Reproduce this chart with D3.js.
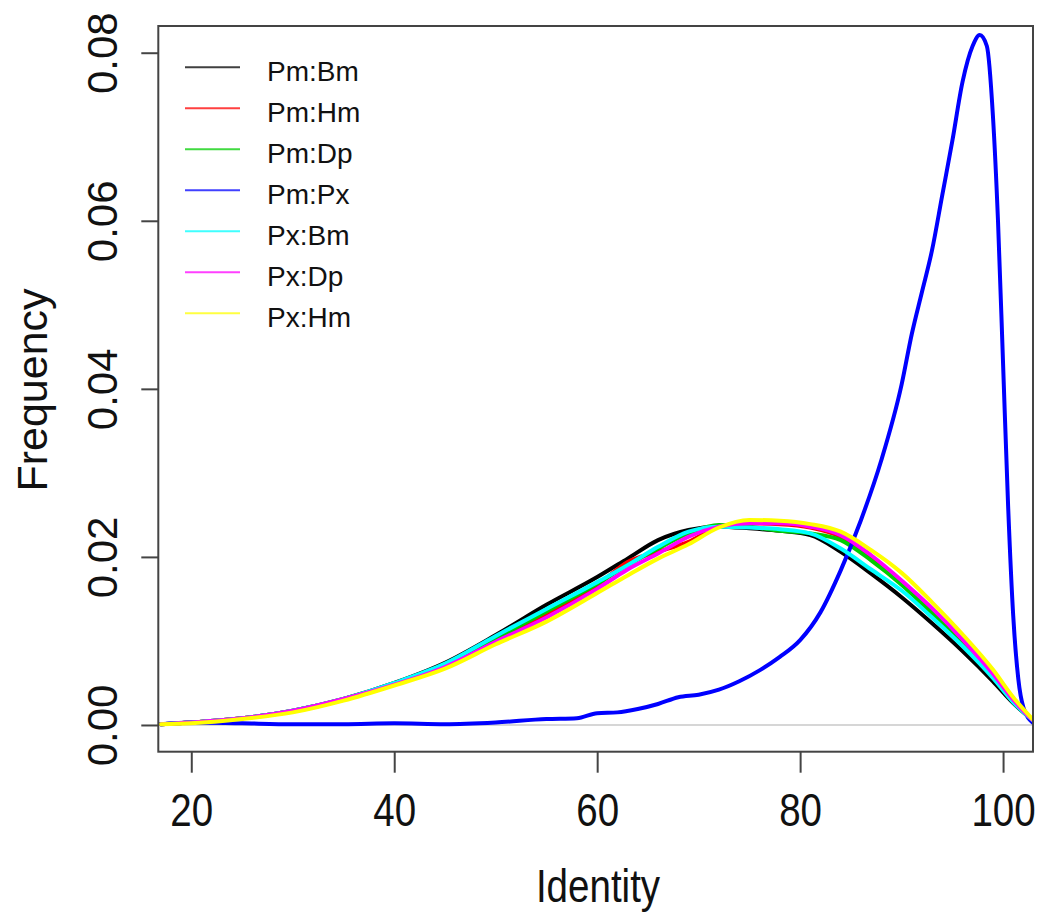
<!DOCTYPE html>
<html>
<head>
<meta charset="utf-8">
<script src="https://cdn.jsdelivr.net/npm/d3@7"></script>
<style>
  html, body { margin: 0; padding: 0; background: #fff; }
  text { font-family: "Liberation Sans", Arial, sans-serif; fill: #111; }
</style>
</head>
<body>
<svg id="chart" width="1039" height="918"></svg>
<script>
// ---------- data ----------
const seriesNames = ["Pm:Bm", "Pm:Hm", "Pm:Dp", "Pm:Px", "Px:Bm", "Px:Dp", "Px:Hm"];
const seriesColors = ["#000000", "#ff0000", "#00cd00", "#0000ff", "#00ffff", "#ff00ff", "#ffff00"];

const identityGrid = [17, 20, 25, 30, 35, 40, 45, 50, 55, 60, 63, 66, 69, 72, 75, 78, 81, 84, 87, 90, 93, 96, 99, 101, 102.9];
const pmBm = [0.0001, 0.0003, 0.0008, 0.0017, 0.0031, 0.0050, 0.0074, 0.0107, 0.0143, 0.0176, 0.0198, 0.0220, 0.0232, 0.0236, 0.0234, 0.0231, 0.0226, 0.0206, 0.0180, 0.0152, 0.0121, 0.0088, 0.0052, 0.0026, 0.0006];
const pmHm = [0.0001, 0.0003, 0.0008, 0.0016, 0.0030, 0.0048, 0.0070, 0.0100, 0.0131, 0.0166, 0.0194, 0.0206, 0.0218, 0.0236, 0.0240, 0.0239, 0.0235, 0.0224, 0.0200, 0.0170, 0.0137, 0.0100, 0.0060, 0.0029, 0.0006];
const pmDp = [0.0001, 0.0003, 0.0008, 0.0017, 0.0031, 0.0049, 0.0072, 0.0103, 0.0135, 0.0168, 0.0190, 0.0210, 0.0228, 0.0238, 0.0236, 0.0231, 0.0228, 0.0220, 0.0196, 0.0167, 0.0133, 0.0097, 0.0058, 0.0028, 0.0006];
const pxBm = [0.0001, 0.0003, 0.0008, 0.0017, 0.0031, 0.0050, 0.0073, 0.0106, 0.0138, 0.0170, 0.0190, 0.0212, 0.0230, 0.0236, 0.0235, 0.0233, 0.0228, 0.0210, 0.0185, 0.0160, 0.0128, 0.0094, 0.0056, 0.0027, 0.0006];
const pxDp = [0.0001, 0.0003, 0.0008, 0.0017, 0.0031, 0.0048, 0.0069, 0.0099, 0.0128, 0.0162, 0.0185, 0.0204, 0.0224, 0.0236, 0.0240, 0.0240, 0.0236, 0.0226, 0.0202, 0.0172, 0.0139, 0.0102, 0.0061, 0.0030, 0.0006];
const pxHm = [0.0001, 0.0002, 0.0007, 0.0015, 0.0029, 0.0047, 0.0067, 0.0096, 0.0123, 0.0157, 0.0178, 0.0198, 0.0215, 0.0235, 0.0244, 0.0243, 0.0239, 0.0230, 0.0208, 0.0181, 0.0146, 0.0108, 0.0066, 0.0033, 0.0007];

const pxIdentity = [17, 20, 25, 30, 35, 40, 45, 50, 55, 58, 60, 62, 64, 66, 68, 70, 72, 74, 76, 78, 80, 82, 84, 86, 88, 90, 91, 92, 93, 94, 95, 96, 97, 97.7, 98.4, 99, 99.5, 100, 100.5, 101, 101.5, 102, 102.9];
const pmPx = [0.0001, 0.0003, 0.0002, 0.0001, 0.0001, 0.0002, 0.0001, 0.0003, 0.0007, 0.0008, 0.0014, 0.0015, 0.0019, 0.0025, 0.0033, 0.0036, 0.0042, 0.0052, 0.0065, 0.0081, 0.0101, 0.0134, 0.0184, 0.0244, 0.0315, 0.0405, 0.0465, 0.0515, 0.0565, 0.0630, 0.0695, 0.0765, 0.0808, 0.0821, 0.0808, 0.0725, 0.0600, 0.0430, 0.0260, 0.0130, 0.0055, 0.0021, 0.0003];

const xTicks = [20, 40, 60, 80, 100];
const yTicks = [0.00, 0.02, 0.04, 0.06, 0.08];

const seriesValues = [pmBm, pmHm, pmDp, pmPx, pxBm, pxDp, pxHm];
const seriesX = [identityGrid, identityGrid, identityGrid, pxIdentity, identityGrid, identityGrid, identityGrid];

// ---------- layout ----------
const svg = d3.select("#chart");
const pLeft = 158.3, pRight = 1033, pTop = 26, pBottom = 751.7;
const x = d3.scaleLinear().domain([16.75, 102.95]).range([pLeft, pRight]);
const y = d3.scaleLinear().domain([-0.00318, 0.08318]).range([pBottom, pTop]);

svg.append("clipPath").attr("id", "plotclip")
  .append("rect").attr("x", pLeft).attr("y", pTop).attr("width", pRight - pLeft).attr("height", pBottom - pTop);

// zero line
svg.append("line")
  .attr("x1", pLeft).attr("x2", pRight)
  .attr("y1", y(0)).attr("y2", y(0))
  .attr("stroke", "#d6d6d6").attr("stroke-width", 2);

// curves
const line = d3.line().x(d => x(d[0])).y(d => y(d[1])).curve(d3.curveMonotoneX);
const gCurves = svg.append("g").attr("clip-path", "url(#plotclip)");
seriesValues.forEach((vals, i) => {
  const pts = seriesX[i].map((xv, j) => [xv, vals[j]]);
  gCurves.append("path")
    .attr("d", line(pts))
    .attr("fill", "none")
    .attr("stroke", seriesColors[i])
    .attr("stroke-width", 4)
    .attr("stroke-linejoin", "round")
    .attr("stroke-linecap", "round");
});

// box
svg.append("rect")
  .attr("x", pLeft).attr("y", pTop)
  .attr("width", pRight - pLeft).attr("height", pBottom - pTop)
  .attr("fill", "none").attr("stroke", "#444").attr("stroke-width", 2);

// x axis
const xAxis = svg.append("g")
  .attr("transform", `translate(0,${pBottom})`)
  .call(d3.axisBottom(x).tickValues(xTicks).tickSize(21).tickPadding(0).tickFormat(d3.format("d")));
xAxis.select(".domain").remove();
xAxis.selectAll(".tick line").attr("stroke", "#444").attr("stroke-width", 2);
xAxis.selectAll(".tick text")
  .attr("y", 74).attr("dy", null)
  .attr("transform", "scale(0.82,1)")
  .style("font-size", "47px").style("font-family", "'Liberation Sans', Arial, sans-serif")
  .attr("fill", "#111");

// y axis
const yAxis = svg.append("g")
  .attr("transform", `translate(${pLeft},0)`)
  .call(d3.axisLeft(y).tickValues(yTicks).tickSize(17).tickFormat(d3.format(".2f")));
yAxis.select(".domain").remove();
yAxis.selectAll(".tick line").attr("stroke", "#444").attr("stroke-width", 2);
yAxis.selectAll(".tick text")
  .attr("x", 0).attr("y", -41).attr("dy", null)
  .attr("text-anchor", "middle")
  .attr("transform", "rotate(-90)")
  .style("font-size", "42px").style("font-family", "'Liberation Sans', Arial, sans-serif")
  .attr("fill", "#111");

// axis titles
svg.append("text")
  .attr("transform", "translate(598,902) scale(0.82,1)")
  .attr("text-anchor", "middle")
  .style("font-size", "47px")
  .text("Identity");

svg.append("text")
  .attr("transform", "translate(47,390) rotate(-90)")
  .attr("text-anchor", "middle")
  .style("font-size", "43px")
  .text("Frequency");

// legend
const legend = svg.append("g");
seriesNames.forEach((name, i) => {
  const ly = 67.3 + i * 41;
  legend.append("line")
    .attr("x1", 185).attr("x2", 240).attr("y1", ly).attr("y2", ly)
    .attr("stroke", seriesColors[i]).attr("stroke-width", 2).attr("stroke-opacity", 0.75);
  legend.append("text")
    .attr("x", 267).attr("y", ly + 13.5)
    .style("font-size", "28px")
    .text(name);
});
</script>
</body>
</html>
